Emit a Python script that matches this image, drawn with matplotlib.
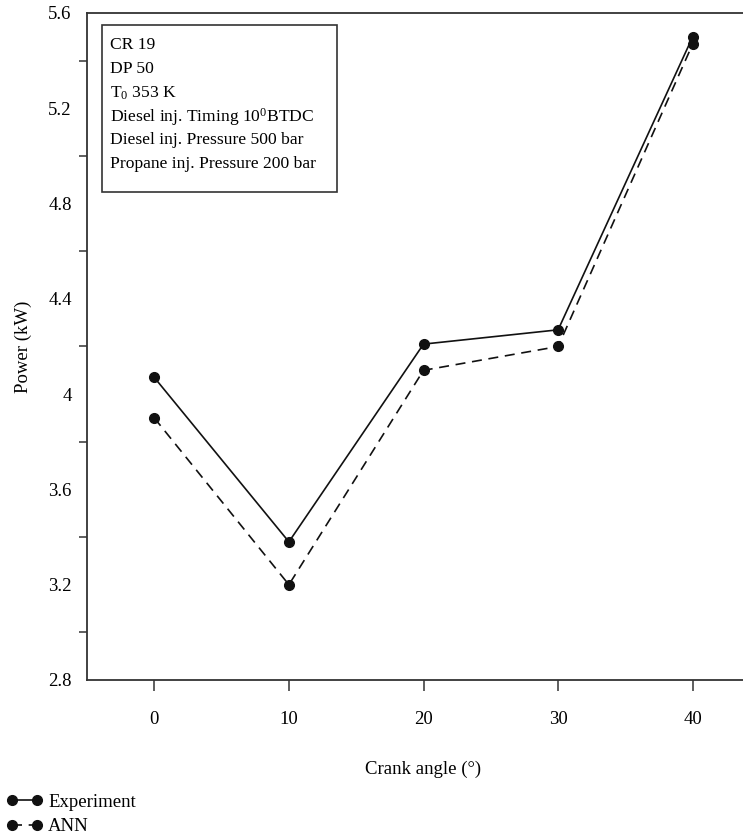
import matplotlib
matplotlib.use("Agg")
import matplotlib.pyplot as plt
from matplotlib.patches import Rectangle
from matplotlib.ticker import MultipleLocator, NullFormatter

# data
crank_angle = [0, 10, 20, 30, 40]
power_exp = [4.07, 3.38, 4.21, 4.27, 5.50]
power_ann = [3.90, 3.20, 4.10, 4.20, 5.47]

info_lines = [
    "CR 19",
    "DP 50",
    r"T$_0$ 353 K",
    r"Diesel inj. Timing 10$^0$BTDC",
    "Diesel inj. Pressure 500 bar",
    "Propane inj. Pressure 200 bar",
]

plt.rcParams['font.family'] = ['Liberation Serif', 'DejaVu Serif']
plt.rcParams['mathtext.fontset'] = 'custom'
plt.rcParams['mathtext.rm'] = 'Liberation Serif'
plt.rcParams['mathtext.it'] = 'Liberation Serif'
plt.rcParams['font.size'] = 13.5

W, H = 743, 840
fig = plt.figure(figsize=(W / 100, H / 100), dpi=100)
# axes run past the right edge, like the cropped original
ax = fig.add_axes([87 / W, 1 - 680 / H, 673 / W, 667 / H])

ax.plot(crank_angle, power_exp, color='#111111', lw=1.2, marker='o', ms=7,
        label='Experiment')
ax.plot(crank_angle, power_ann, color='#111111', lw=1.2, ls=(0, (6, 4)),
        marker='o', ms=7, label='ANN')

ax.set_xlim(-5, 45)
ax.set_ylim(2.8, 5.6)
ax.xaxis.set_major_locator(MultipleLocator(10))
ax.yaxis.set_major_locator(MultipleLocator(0.4))
ax.yaxis.set_minor_locator(MultipleLocator(0.2))
ax.yaxis.set_minor_formatter(NullFormatter())
ax.yaxis.set_major_formatter(plt.FuncFormatter(lambda v, p: f"{v:g}"))

ax.tick_params(axis='x', which='major', direction='out', length=8,
               width=1.1, pad=14, color='#333333')
ax.tick_params(axis='y', which='major', length=0, pad=11)
ax.tick_params(axis='y', which='minor', direction='out', length=6,
               width=1.1, color='#333333')

for side in ['left', 'bottom', 'top']:
    ax.spines[side].set_linewidth(1.3)
    ax.spines[side].set_color('#333333')
ax.spines['right'].set_visible(False)

ax.set_xlabel('Crank angle (°)', labelpad=24)
ax.set_ylabel('Power (kW)', labelpad=12)

# info box, placed in figure pixels
box_l, box_t, box_r, box_b = 102, 25, 337, 192
fig.patches.append(Rectangle((box_l / W, 1 - box_b / H), (box_r - box_l) / W,
                             (box_b - box_t) / H, transform=fig.transFigure,
                             fc='white', ec='#333333', lw=1.2, zorder=5))
for i, line in enumerate(info_lines):
    fig.text(110 / W, 1 - (43 + 23.8 * i) / H, line, ha='left',
             va='center_baseline', fontsize=12.6, zorder=6)

handles, labels = ax.get_legend_handles_labels()
fig.legend(handles, labels, loc='lower left', bbox_to_anchor=(-0.006, -0.008),
           frameon=False, numpoints=2, handlelength=1.9, handletextpad=0.3,
           labelspacing=0.4, borderaxespad=0.2)

fig.savefig('out.png', dpi=100)
